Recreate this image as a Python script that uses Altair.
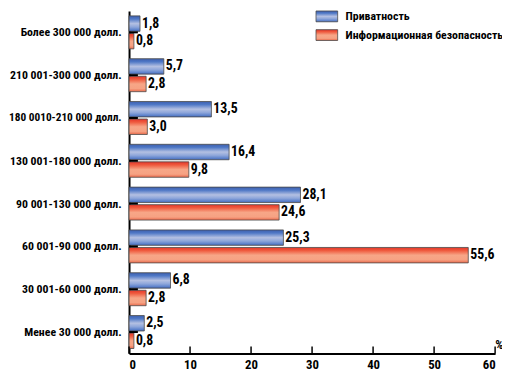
import altair as alt
import pandas as pd

categories = ["Более 300 000 долл.", "210 001-300 000 долл.", "180 0010-210 000 долл.",
              "130 001-180 000 долл.", "90 001-130 000 долл.", "60 001-90 000 долл.",
              "30 001-60 000 долл.", "Менее 30 000 долл."]
series_names = ["Приватность", "Информационная безопасность"]
privacy = [1.8, 5.7, 13.5, 16.4, 28.1, 25.3, 6.8, 2.5]
infosec = [0.8, 2.8, 3.0, 9.8, 24.6, 55.6, 2.8, 0.8]
x_ticks = [0, 10, 20, 30, 40, 50, 60]

rows = []
for c, p, i in zip(categories, privacy, infosec):
    rows.append({"cat": c, "series": series_names[0], "value": p,
                 "label": f"{p:.1f}".replace(".", ",")})
    rows.append({"cat": c, "series": series_names[1], "value": i,
                 "label": f"{i:.1f}".replace(".", ",")})
df = pd.DataFrame(rows)

FONT = "Roboto Condensed, DejaVu Sans Condensed, sans-serif"

blue_grad = alt.Gradient(gradient="linear", x1=0, x2=0, y1=0, y2=1, stops=[
    alt.GradientStop(color="#3d5fae", offset=0),
    alt.GradientStop(color="#4f78c6", offset=0.2),
    alt.GradientStop(color="#b4c0e2", offset=0.5),
    alt.GradientStop(color="#8ea6da", offset=0.72),
    alt.GradientStop(color="#5d82cc", offset=0.9),
    alt.GradientStop(color="#4565b0", offset=1)])
red_grad = alt.Gradient(gradient="linear", x1=0, x2=0, y1=0, y2=1, stops=[
    alt.GradientStop(color="#e5362a", offset=0),
    alt.GradientStop(color="#ef5a3e", offset=0.2),
    alt.GradientStop(color="#f7a687", offset=0.5),
    alt.GradientStop(color="#f6a283", offset=0.8),
    alt.GradientStop(color="#ea6a4c", offset=1)])
grads = [blue_grad, red_grad]

x_scale = alt.Scale(domain=[0, 60], nice=False, zero=True)
y_scale = alt.Scale(domain=categories, paddingInner=0, paddingOuter=0)
yoff = alt.YOffset("series:N", scale=alt.Scale(domain=series_names, paddingInner=0.12, paddingOuter=0.28))

x_axis = alt.Axis(values=x_ticks, grid=False, ticks=False, domainColor="black", domainWidth=2,
                  labelFont=FONT, labelFontSize=13, labelFontWeight="bold", labelColor="black",
                  labelPadding=5, title="%", titleFont=FONT, titleFontSize=13, titleFontWeight="bold",
                  titleX=380, titleY=-2, titleAlign="right", titleBaseline="bottom", titleColor="black")
y_axis = alt.Axis(grid=False, ticks=False, domainColor="black", domainWidth=2,
                  labelFont=FONT,
                  labelFontSize={"condition": {"test": "length(datum.label) > 21", "value": 11.5}, "value": 12},
                  labelFontWeight="bold", labelColor="black",
                  labelPadding=8, labelLimit=200, title=None)

X = lambda f: alt.X(f, scale=x_scale, axis=x_axis)
Y = lambda f: alt.Y(f, scale=y_scale, axis=y_axis, sort=categories)

layers = []
for idx, (name, g) in enumerate(zip(series_names, grads)):
    sub = df[df["series"] == name]
    bars = alt.Chart(sub).mark_bar(fill=g, stroke="#4a4a4a", strokeWidth=1, strokeOpacity=0.8).encode(
        x=X("value:Q"), y=Y("cat:N"), yOffset=yoff)
    layers.append(bars)

text = alt.Chart(df).mark_text(align="left", baseline="middle", dx=2, font=FONT, fontSize=14,
                               fontWeight="bold", color="black").encode(
    x=X("value:Q"), y=Y("cat:N"), yOffset=yoff, text="label:N")
layers.append(text)

cat_ticks = alt.Chart(pd.DataFrame({"cat": categories})).mark_rule(color="black", strokeWidth=2).encode(
    y=Y("cat:N"), x=alt.value(0), x2=alt.value(9))
layers.append(cat_ticks)

x_tick_marks = alt.Chart(pd.DataFrame({"value": x_ticks})).mark_rule(color="black", strokeWidth=1.5).encode(
    x=X("value:Q"), y=alt.value(341), y2=alt.value(348))
layers.append(x_tick_marks)

for idx, (name, g) in enumerate(zip(series_names, grads)):
    ld = pd.DataFrame({"s": [name]})
    y0 = idx * 19
    sw = alt.Chart(ld).mark_rect(fill=g, stroke="#4a4a4a", strokeWidth=1, strokeOpacity=0.8).encode(
        x=alt.value(190), x2=alt.value(212), y=alt.value(y0), y2=alt.value(y0 + 11))
    lt = alt.Chart(ld).mark_text(align="left", baseline="middle", font=FONT, fontSize=12,
                                 fontWeight="bold", color="black").encode(
        x=alt.value(220), y=alt.value(y0 + 5.5), text="s:N")
    layers += [sw, lt]

chart = alt.layer(*layers).properties(
    width=372, height=348,
    autosize=alt.AutoSizeParams(type="none"),
    padding={"left": 123, "top": 0, "right": 7, "bottom": 25},
).configure_view(stroke=None)

chart.save("out.html", embed_options={"renderer": "svg", "actions": False})
